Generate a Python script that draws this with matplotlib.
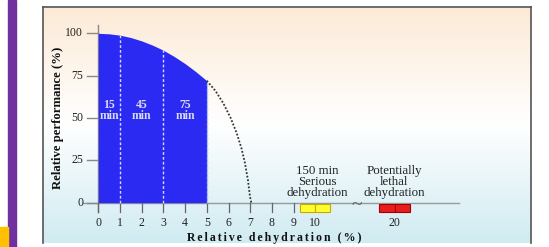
import numpy as np
import matplotlib.pyplot as plt
from matplotlib.patches import Rectangle

# data
perf_x = [0, 0.5, 1, 1.5, 2, 2.5, 3, 3.5, 4, 4.5, 5]
perf_y = [100, 99.7, 98.9, 97.5, 95.5, 93, 90, 86.3, 82.1, 77.3, 72]
extrap_x = [5, 5.4, 5.76, 6.1, 6.38, 6.6, 6.76, 6.9, 6.99, 7.05]
extrap_y = [72, 66, 58.7, 50, 41, 32, 23.3, 13, 3.5, 0]
split_x = [1, 3]
duration_labels = ["15\nmin", "45\nmin", "75\nmin"]
duration_pos = [0.5, 2, 4]
xticks = [0, 1, 2, 3, 4, 5, 6, 7, 8, 9]
yticks = [0, 25, 50, 75, 100]
serious_boxes = [(9.3, 10.0), (10.0, 10.7)]
lethal_boxes = [(12.95, 13.65), (13.65, 14.35)]
extra_tick_pos = [10, 13.65]
extra_tick_labels = ["10", "20"]

W, H = 549, 247
fig = plt.figure(figsize=(W / 100, H / 100), dpi=100)
fig.patch.set_facecolor("white")

# slide decorations
fig.patches.append(Rectangle((8 / W, 0), 8 / W, 1, transform=fig.transFigure,
                             color="#7030a0", zorder=0))
fig.patches.append(Rectangle((0, 0), 8 / W, 20 / H, transform=fig.transFigure,
                             color="#ffc000", zorder=0))

# panel axes, covering the framed picture
left, top, right, bottom = 43, 7, 531, 243
ax = fig.add_axes([left / W, 1 - bottom / H, (right - left) / W, (bottom - top) / H])

px = 21.7  # pixels per x unit
py = 1.694  # pixels per y unit
x0, y0 = 98.3, 202.7
xlim = (-(x0 - left) / px, (right - x0) / px)
ylim = (-(bottom - y0) / py, (y0 - top) / py)
ax.set_xlim(*xlim)
ax.set_ylim(*ylim)

# background gradient peach -> white -> light blue
top_c = np.array([252, 234, 214]) / 255
mid_c = np.array([255, 255, 255]) / 255
bot_c = np.array([208, 235, 242]) / 255
n = 200
t = np.linspace(0, 1, n)[:, None]
grad = np.where(t < 0.5, top_c + (mid_c - top_c) * (t / 0.5),
                mid_c + (bot_c - mid_c) * ((t - 0.5) / 0.5))
grad = np.concatenate([grad, np.zeros((n, 1)) + 1], axis=1)[:, None, :]
ax.imshow(grad, extent=(xlim[0], xlim[1], ylim[0], ylim[1]), aspect="auto",
          origin="upper", zorder=0)

for s in ["top", "left", "right"]:
    ax.spines[s].set_color("#555555")
    ax.spines[s].set_linewidth(1.2)
ax.spines["bottom"].set_visible(False)
ax.set_xticks([])
ax.set_yticks([])

serif = ["Liberation Serif", "DejaVu Serif"]
tick_kw = dict(family=serif, fontsize=8.5, color="#222222")

# blue area under measured curve
ax.fill_between(perf_x, 0, perf_y, color="#2a2af2", zorder=2, linewidth=0)
for xs in split_x:
    ax.plot([xs, xs], [0, np.interp(xs, perf_x, perf_y)], color="#d8d8ff",
            ls=(0, (2, 1.5)), lw=1, zorder=3)
ax.plot([5, 5], [0, perf_y[-1]], color="#a8c0ff", ls=(0, (2, 1.5)), lw=1, zorder=3)
ax.plot(extrap_x, extrap_y, color="#333333", ls=(0, (1, 1)), lw=1.3, zorder=3)

for lab, xp in zip(duration_labels, duration_pos):
    ax.text(xp, 54.5, lab, ha="center", va="center", family=serif, fontsize=8.5,
            fontweight="bold", color="#dcdcee", linespacing=0.9, zorder=4)

# axes lines
ax.plot([-0.7, 16.6], [0, 0], color="#999999", lw=1, zorder=1)
ax.plot([0, 0], [-5.5, 105], color="#888888", lw=1, zorder=1)

for yt in yticks:
    ax.plot([-0.5, 0], [yt, yt], color="#888888", lw=1, zorder=1)
    ax.text(-0.7, yt, str(yt), ha="right", va="center", **tick_kw)
for xt in xticks:
    ax.plot([xt, xt], [0, -5.5], color="#666666", lw=0.9, zorder=1)
    ax.text(xt, -11.8, str(xt), ha="center", va="center", **tick_kw)
for xt, lab in zip(extra_tick_pos, extra_tick_labels):
    ax.text(xt, -11.8, lab, ha="center", va="center", **tick_kw)

for a, b in serious_boxes:
    ax.add_patch(Rectangle((a, -5.6), b - a, 5.0, facecolor="#ffff30",
                           edgecolor="#c9a800", lw=0.8, zorder=3))
for a, b in lethal_boxes:
    ax.add_patch(Rectangle((a, -5.6), b - a, 5.0, facecolor="#e81c1c",
                           edgecolor="#a00000", lw=0.8, zorder=3))

ax.text(11.9, -1.5, "~", ha="center", va="center", family=serif, fontsize=14,
        color="#555555")

ax.text(10.08, 12, "150 min\nSerious\ndehydration", ha="center", va="center",
        family=serif, fontsize=9.3, color="#222222", linespacing=0.9)
ax.text(13.63, 12, "Potentially\nlethal\ndehydration", ha="center", va="center",
        family=serif, fontsize=9.3, color="#222222", linespacing=0.9)

spaced = "\u2006".join("Relative dehydration (%)")
ax.text(8.1, -20.6, spaced, ha="center", va="center", family=serif, fontsize=8.5,
        fontweight="bold", color="#111111")
ax.text(-1.84, 50, "Relative performance (%)", ha="center", va="center",
        rotation=90, family=serif, fontsize=9.2, fontweight="bold", color="#111111")

fig.savefig("out.png", dpi=100)
